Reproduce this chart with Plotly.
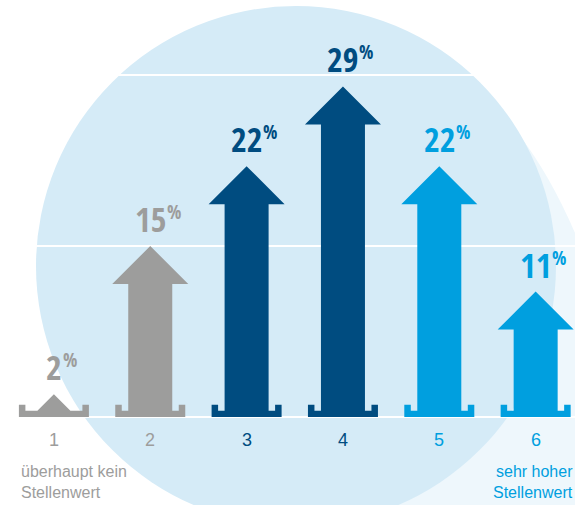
import plotly.graph_objects as go

# ---------------- data ----------------
categories = ["1", "2", "3", "4", "5", "6"]
values = [2, 15, 22, 29, 22, 11]
bar_colors = ["#9D9D9C", "#9D9D9C", "#004C80", "#004C80", "#009FDF", "#009FDF"]
left_label = ["überhaupt kein", "Stellenwert"]
right_label = ["sehr hoher", "Stellenwert"]
grid_values = [0, 15, 30]

# ---------------- geometry (axis units) ----------------
W, H = 575, 505
PX_X = 96.35
X1_PX = 53.9
PX_Y = 11.4
Y0_PX = 417

x_range = [1 - X1_PX / PX_X, 1 - X1_PX / PX_X + W / PX_X]
y_range = [-(H - Y0_PX) / PX_Y, Y0_PX / PX_Y]

shaft_hw = 22 / PX_X
head_hw = 38 / PX_X
head_h = 38 / PX_Y
base_hw = 35 / PX_X
tab_w = 6.5 / PX_X
bar_top = 6.3 / PX_Y
tab_top = 12.3 / PX_Y

BOLD_FONT = "'Open Sans Condensed', 'DejaVu Sans Condensed', 'Liberation Sans', sans-serif"
FONT = "'Liberation Sans', 'DejaVu Sans Condensed', sans-serif"

fig = go.Figure()

for i, (cat, v, col) in enumerate(zip(categories, values, bar_colors)):
    c = i + 1
    xs, ys = [], []
    xs += [c - base_hw, c + base_hw, c + base_hw, c + base_hw - tab_w, c + base_hw - tab_w]
    ys += [0, 0, tab_top, tab_top, bar_top]
    hb = v - head_h
    if hb > bar_top:
        xs += [c + shaft_hw, c + shaft_hw, c + head_hw, c, c - head_hw, c - shaft_hw, c - shaft_hw]
        ys += [bar_top, hb, hb, v, hb, hb, bar_top]
    else:
        hw = (v - bar_top) * PX_Y / PX_X
        xs += [c + hw, c, c - hw]
        ys += [bar_top, v, bar_top]
    xs += [c - base_hw + tab_w, c - base_hw + tab_w, c - base_hw, c - base_hw]
    ys += [bar_top, tab_top, tab_top, 0]
    fig.add_trace(go.Scatter(x=xs, y=ys, fill="toself", fillcolor=col, mode="none",
                             line=dict(width=0), hoverinfo="skip", showlegend=False))

    digits = str(v)
    fig.add_annotation(x=c, y=v, text=digits, showarrow=False, xanchor="center",
                       yanchor="middle", yshift=27,
                       font=dict(family=BOLD_FONT, size=34, color=col, weight="bold"))
    fig.add_annotation(x=c, y=v, text="%", showarrow=False, xanchor="left",
                       yanchor="middle", yshift=34, xshift=7.5 * len(digits) - 0.5,
                       font=dict(family=BOLD_FONT, size=19, color=col, weight="bold"))
    fig.add_annotation(x=c, y=0, text=cat, showarrow=False, xanchor="center",
                       yanchor="middle", yshift=-23,
                       font=dict(family=FONT, size=18, color=col))

for k, line in enumerate(left_label):
    fig.add_annotation(x=1, y=0, text=line, showarrow=False, xanchor="left",
                       yanchor="middle", xshift=-35, yshift=-54 - 21 * k,
                       font=dict(family=FONT, size=16, color=bar_colors[0]))
for k, line in enumerate(right_label):
    fig.add_annotation(x=len(categories), y=0, text=line, showarrow=False, xanchor="right",
                       yanchor="middle", xshift=39, yshift=-54 - 21 * k,
                       font=dict(family=FONT, size=16, color=bar_colors[-1]))


def px(x):
    return x / W


def py(y):
    return 1 - y / H


path = (f"M {px(520)},{py(136)} Q {px(552)},{py(178)} {px(578)},{py(240)} "
        f"L {px(580)},{py(510)} L {px(380)},{py(510)} L {px(380)},{py(250)} Z")
fig.add_shape(type="path", path=path, xref="paper", yref="paper",
              fillcolor="#EEF7FC", line=dict(width=0), layer="below")
fig.add_shape(type="circle", xref="paper", yref="paper",
              x0=px(36), x1=px(556), y0=py(526), y1=py(6),
              fillcolor="#D5EBF7", line=dict(width=0), layer="below")

fig.update_layout(
    width=W, height=H, margin=dict(l=0, r=0, t=0, b=0),
    paper_bgcolor="white", plot_bgcolor="rgba(0,0,0,0)",
    showlegend=False,
    xaxis=dict(range=x_range, showgrid=False, zeroline=False,
               showticklabels=False, ticks="", fixedrange=True),
    yaxis=dict(range=y_range, tickvals=grid_values, showgrid=True, gridcolor="white",
               gridwidth=2, zeroline=False, showticklabels=False, ticks="",
               fixedrange=True),
)

fig.write_html("out.html")
